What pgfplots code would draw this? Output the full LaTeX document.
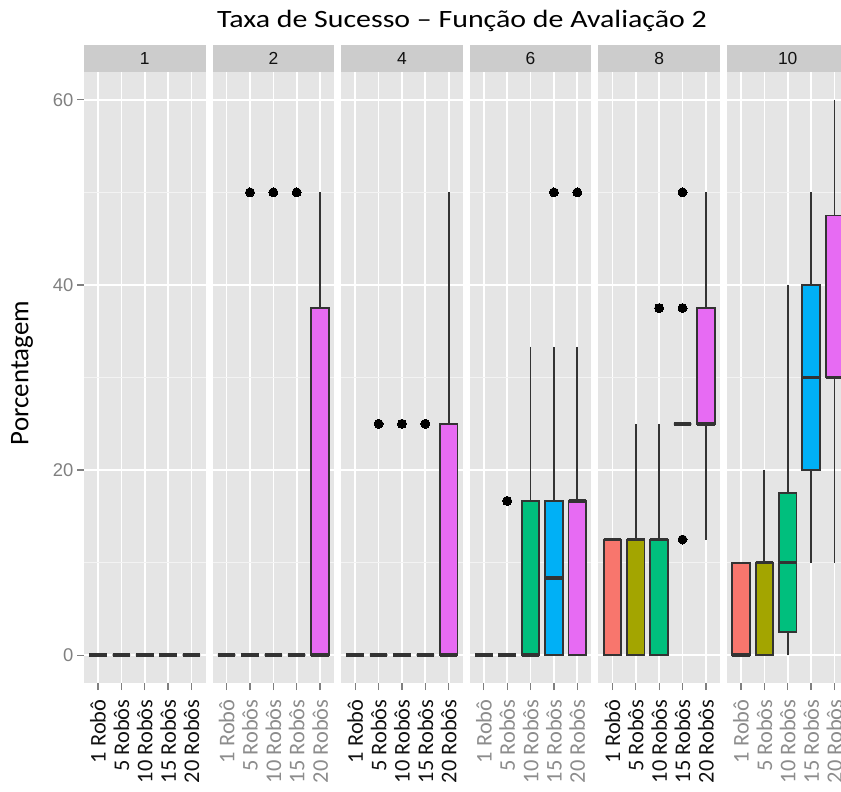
\documentclass[border=0pt]{standalone}
\usepackage{pgfplots}
\pgfplotsset{compat=1.18}
\usepgfplotslibrary{statistics}
\usepackage{fontspec}
\setmainfont{Carlito}
\newfontfamily\arial{Liberation Sans}
\definecolor{cA}{HTML}{F8766D}
\definecolor{cB}{HTML}{A3A500}
\definecolor{cC}{HTML}{00BF7D}
\definecolor{cD}{HTML}{00B0F6}
\definecolor{cE}{HTML}{E76BF3}
\definecolor{boxline}{HTML}{333333}
\definecolor{panelbg}{HTML}{E5E5E5}
\definecolor{stripbg}{HTML}{CCCCCC}
\definecolor{tickgray}{HTML}{808080}
\definecolor{lblgray}{HTML}{8C8C8C}
\definecolor{lblblack}{HTML}{111111}
\pgfplotsset{
 facet/.style={width=121.5bp, height=611bp, scale only axis, anchor=north west,
   xmin=0.4, xmax=5.6, ymin=-3, ymax=63,
   axis background/.style={fill=panelbg},
   axis line style={draw=none},
   xtick={1,2,3,4,5},
   xticklabels={1 Robô,5 Robôs,10 Robôs,15 Robôs,20 Robôs},
   xticklabel style={rotate=90, anchor=east, font=\fontsize{22.5}{22.5}\selectfont, text=#1},
   xticklabel shift=6bp,
   ytick={0,20,40,60}, minor ytick={10,30,50},
   xmajorgrids, ymajorgrids, yminorgrids,
   major grid style={white, line width=1.7bp},
   minor grid style={white!55!panelbg, line width=0.9bp},
   tick align=outside, major tick length=7bp, minor tick length=0pt,
   xtick pos=bottom, ytick pos=left,
   tick style={draw=tickgray, line width=1.3bp},
   yticklabels={}, ytick style={draw=none},
 },
 bx/.style={boxplot/draw direction=y, boxplot/box extend=0.75, boxplot/whisker extend=0, fill=#1, draw=boxline, line width=1.8bp,
   boxplot/every median/.style={line width=3.6bp},
   mark=*, mark size=4.5bp, mark options={fill=black, draw=black, line width=0pt}},
}
\begin{document}
\begin{tikzpicture}
\path[use as bounding box, clip] (0bp,0bp) rectangle (841bp,-792bp);
\begin{scope}[x=1bp,y=1bp]
% title and y label
\node[font=\fontsize{25}{25}\selectfont, xscale=1.2] at (462,-21) {Taxa de Sucesso – Função de Avaliação 2};
\node[font=\fontsize{27}{27}\selectfont, rotate=90] at (22,-373) {Porcentagem};
% strips
\foreach \xx/\lab in {84/1, 212.6/2, 341.2/4, 469.8/6, 598.4/8, 727/10}{
  \fill[stripbg] (\xx,-45) rectangle ++(121.5,-27);
  \node[font=\arial\fontsize{17.5}{17.5}\selectfont, text=lblblack] at (\xx+60.75,-58.5) {\lab};
}
\end{scope}
% Panel 1
\begin{axis}[facet=lblblack, at={(84bp,-72bp)},
  yticklabels={0,20,40,60}, ytick style={draw=tickgray, line width=1.3bp},
  yticklabel style={font=\arial\fontsize{18.5}{18.5}\selectfont, text=tickgray}]
\addplot[bx=cA, boxplot prepared={draw position=1, lower whisker=0, lower quartile=0, median=0, upper quartile=0, upper whisker=0}] coordinates {};
\addplot[bx=cB, boxplot prepared={draw position=2, lower whisker=0, lower quartile=0, median=0, upper quartile=0, upper whisker=0}] coordinates {};
\addplot[bx=cC, boxplot prepared={draw position=3, lower whisker=0, lower quartile=0, median=0, upper quartile=0, upper whisker=0}] coordinates {};
\addplot[bx=cD, boxplot prepared={draw position=4, lower whisker=0, lower quartile=0, median=0, upper quartile=0, upper whisker=0}] coordinates {};
\addplot[bx=cE, boxplot prepared={draw position=5, lower whisker=0, lower quartile=0, median=0, upper quartile=0, upper whisker=0}] coordinates {};
\end{axis}
% Panel 2
\begin{axis}[facet=lblgray, at={(212.6bp,-72bp)}]
\addplot[bx=cA, boxplot prepared={draw position=1, lower whisker=0, lower quartile=0, median=0, upper quartile=0, upper whisker=0}] coordinates {};
\addplot[bx=cB, boxplot prepared={draw position=2, lower whisker=0, lower quartile=0, median=0, upper quartile=0, upper whisker=0}] table[row sep=\\, y index=0] {50\\};
\addplot[bx=cC, boxplot prepared={draw position=3, lower whisker=0, lower quartile=0, median=0, upper quartile=0, upper whisker=0}] table[row sep=\\, y index=0] {50\\};
\addplot[bx=cD, boxplot prepared={draw position=4, lower whisker=0, lower quartile=0, median=0, upper quartile=0, upper whisker=0}] table[row sep=\\, y index=0] {50\\};
\addplot[bx=cE, boxplot prepared={draw position=5, lower whisker=0, lower quartile=0, median=0, upper quartile=37.5, upper whisker=50}] coordinates {};
\end{axis}
% Panel 4
\begin{axis}[facet=lblblack, at={(341.2bp,-72bp)}]
\addplot[bx=cA, boxplot prepared={draw position=1, lower whisker=0, lower quartile=0, median=0, upper quartile=0, upper whisker=0}] coordinates {};
\addplot[bx=cB, boxplot prepared={draw position=2, lower whisker=0, lower quartile=0, median=0, upper quartile=0, upper whisker=0}] table[row sep=\\, y index=0] {25\\};
\addplot[bx=cC, boxplot prepared={draw position=3, lower whisker=0, lower quartile=0, median=0, upper quartile=0, upper whisker=0}] table[row sep=\\, y index=0] {25\\};
\addplot[bx=cD, boxplot prepared={draw position=4, lower whisker=0, lower quartile=0, median=0, upper quartile=0, upper whisker=0}] table[row sep=\\, y index=0] {25\\};
\addplot[bx=cE, boxplot prepared={draw position=5, lower whisker=0, lower quartile=0, median=0, upper quartile=25, upper whisker=50}] coordinates {};
\end{axis}
% Panel 6
\begin{axis}[facet=lblgray, at={(469.8bp,-72bp)}]
\addplot[bx=cA, boxplot prepared={draw position=1, lower whisker=0, lower quartile=0, median=0, upper quartile=0, upper whisker=0}] coordinates {};
\addplot[bx=cB, boxplot prepared={draw position=2, lower whisker=0, lower quartile=0, median=0, upper quartile=0, upper whisker=0}] table[row sep=\\, y index=0] {16.67\\};
\addplot[bx=cC, boxplot prepared={draw position=3, lower whisker=0, lower quartile=0, median=0, upper quartile=16.67, upper whisker=33.33}] coordinates {};
\addplot[bx=cD, boxplot prepared={draw position=4, lower whisker=0, lower quartile=0, median=8.33, upper quartile=16.67, upper whisker=33.33}] table[row sep=\\, y index=0] {50\\};
\addplot[bx=cE, boxplot prepared={draw position=5, lower whisker=0, lower quartile=0, median=16.67, upper quartile=16.67, upper whisker=33.33}] table[row sep=\\, y index=0] {50\\};
\end{axis}
% Panel 8
\begin{axis}[facet=lblblack, at={(598.4bp,-72bp)}]
\addplot[bx=cA, boxplot prepared={draw position=1, lower whisker=0, lower quartile=0, median=12.5, upper quartile=12.5, upper whisker=12.5}] coordinates {};
\addplot[bx=cB, boxplot prepared={draw position=2, lower whisker=0, lower quartile=0, median=12.5, upper quartile=12.5, upper whisker=25}] coordinates {};
\addplot[bx=cC, boxplot prepared={draw position=3, lower whisker=0, lower quartile=0, median=12.5, upper quartile=12.5, upper whisker=25}] table[row sep=\\, y index=0] {37.5\\};
\addplot[bx=cD, boxplot prepared={draw position=4, lower whisker=25, lower quartile=25, median=25, upper quartile=25, upper whisker=25}] table[row sep=\\, y index=0] {12.5\\ 37.5\\ 50\\};
\addplot[bx=cE, boxplot prepared={draw position=5, lower whisker=12.5, lower quartile=25, median=25, upper quartile=37.5, upper whisker=50}] coordinates {};
\end{axis}
% Panel 10
\begin{axis}[facet=lblgray, at={(727bp,-72bp)}]
\addplot[bx=cA, boxplot prepared={draw position=1, lower whisker=0, lower quartile=0, median=0, upper quartile=10, upper whisker=10}] coordinates {};
\addplot[bx=cB, boxplot prepared={draw position=2, lower whisker=0, lower quartile=0, median=10, upper quartile=10, upper whisker=20}] coordinates {};
\addplot[bx=cC, boxplot prepared={draw position=3, lower whisker=0, lower quartile=2.5, median=10, upper quartile=17.5, upper whisker=40}] coordinates {};
\addplot[bx=cD, boxplot prepared={draw position=4, lower whisker=10, lower quartile=20, median=30, upper quartile=40, upper whisker=50}] coordinates {};
\addplot[bx=cE, boxplot prepared={draw position=5, lower whisker=10, lower quartile=30, median=30, upper quartile=47.5, upper whisker=60}] coordinates {};
\end{axis}
\end{tikzpicture}
\end{document}
